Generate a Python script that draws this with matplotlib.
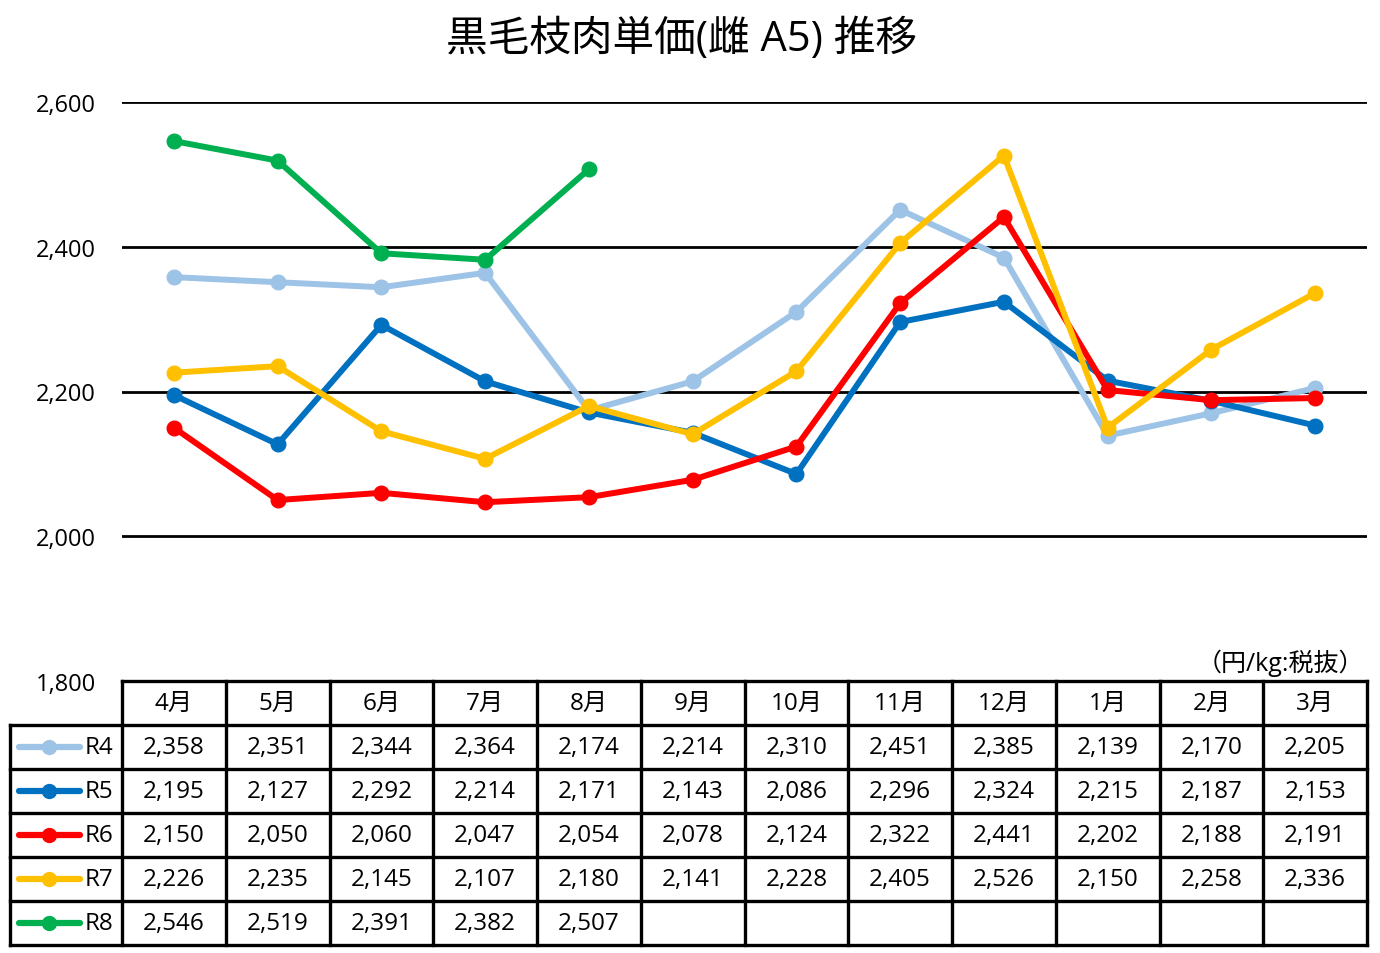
import matplotlib
matplotlib.use("Agg")
import matplotlib.pyplot as plt
from matplotlib.lines import Line2D

plt.rcParams['font.family'] = ['Open Sans', 'Noto Sans CJK JP', 'DejaVu Sans']

months = ["4月", "5月", "6月", "7月", "8月", "9月", "10月", "11月", "12月", "1月", "2月", "3月"]
series_names = ["R4", "R5", "R6", "R7", "R8"]
r4 = [2358, 2351, 2344, 2364, 2174, 2214, 2310, 2451, 2385, 2139, 2170, 2205]
r5 = [2195, 2127, 2292, 2214, 2171, 2143, 2086, 2296, 2324, 2215, 2187, 2153]
r6 = [2150, 2050, 2060, 2047, 2054, 2078, 2124, 2322, 2441, 2202, 2188, 2191]
r7 = [2226, 2235, 2145, 2107, 2180, 2141, 2228, 2405, 2526, 2150, 2258, 2336]
r8 = [2546, 2519, 2391, 2382, 2507]
yticks = [1800, 2000, 2200, 2400, 2600]
title = "黒毛枝肉単価(雌 A5) 推移"
unit = "（円/kg:税抜）"

all_series = [r4, r5, r6, r7, r8]
colors = ["#9DC3E6", "#0070C0", "#FF0000", "#FFC000", "#00B050"]

W, H = 1380, 954
fig = plt.figure(figsize=(W / 100, H / 100), dpi=100)

x0, x1 = 122, 1367
ytop, ybot = 103, 682
ax = fig.add_axes([x0 / W, 1 - ybot / H, (x1 - x0) / W, (ybot - ytop) / H])
ax.set_xlim(-0.5, len(months) - 0.5)
ax.set_ylim(1800, 2600)
for s in ax.spines.values():
    s.set_visible(False)
ax.set_xticks([])
ax.set_yticks(yticks)
ax.set_yticklabels([f"{v:,}" for v in yticks], fontsize=17)
ax.tick_params(axis='y', length=0, pad=19)
for v in yticks:
    ax.axhline(v, color='black', lw=2.0, zorder=1)

for vals, c in zip(all_series, colors):
    ax.plot(range(len(vals)), vals, color=c, lw=4.3, marker='o', ms=10.5,
            solid_capstyle='round', zorder=3)

fig.text(0.494, 1 - 40 / H, title, fontsize=30, ha='center', va='center')

# table overlay
tax = fig.add_axes([0, 0, 1, 1])
tax.set_xlim(0, W)
tax.set_ylim(H, 0)
tax.axis('off')
tax.patch.set_alpha(0)

ncol = len(months)
colw = (x1 - x0) / ncol
row_top = 682
rowh = 44
nrows = len(series_names)
lw = 2.4
bottom = row_top + rowh * (nrows + 1)
legend_left = 10
fs = 17.5

tax.plot([x0, x1], [row_top, row_top], color='black', lw=lw, solid_capstyle='projecting')
for i in range(1, nrows + 2):
    y = row_top + rowh * i
    tax.plot([legend_left, x1], [y, y], color='black', lw=lw, solid_capstyle='projecting')
tax.plot([legend_left, legend_left], [row_top + rowh, bottom], color='black', lw=lw, solid_capstyle='projecting')
for j in range(ncol + 1):
    x = x0 + colw * j
    tax.plot([x, x], [row_top, bottom], color='black', lw=lw, solid_capstyle='projecting')

for j, m in enumerate(months):
    tax.text(x0 + colw * (j + 0.5), row_top + rowh / 2, m, ha='center', va='center', fontsize=fs)

for i, (name, vals, c) in enumerate(zip(series_names, all_series, colors)):
    yc = row_top + rowh * (i + 1.5)
    tax.add_line(Line2D([19, 80], [yc, yc], color=c, lw=4.5, solid_capstyle='round'))
    tax.add_line(Line2D([49], [yc], color=c, marker='o', ms=10, lw=0))
    tax.text(85, yc, name, ha='left', va='center', fontsize=fs)
    for j, v in enumerate(vals):
        tax.text(x0 + colw * (j + 0.5), yc, f"{v:,}", ha='center', va='center', fontsize=fs)

tax.text(1364, 663, unit, ha='right', va='center', fontsize=18)

fig.savefig("out.png", dpi=100, facecolor='white')
